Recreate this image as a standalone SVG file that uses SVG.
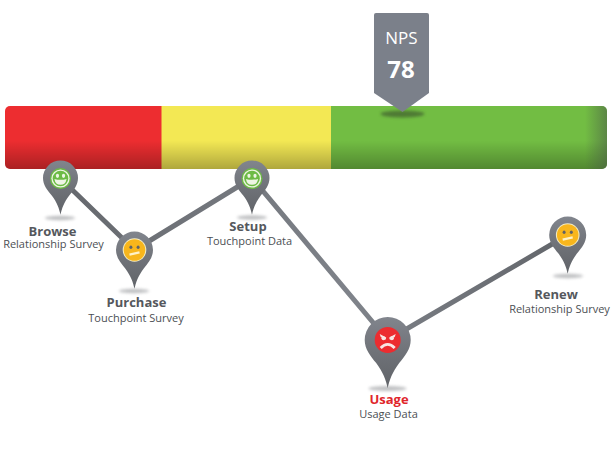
<svg xmlns="http://www.w3.org/2000/svg" width="613" height="456" viewBox="0 0 613 456">
<style>
text{font-family:"Open Sans","Noto Sans","Liberation Sans",sans-serif;text-anchor:middle}
.t{font-size:13px;font-weight:700;fill:#55585d}
.s{font-size:11px;fill:#4c4f54}
.pin{fill:url(#pinG)}
.shadow{fill:#8a8c90;opacity:.55;filter:url(#b2)}
.line{fill:none;stroke:url(#lineG);stroke-width:5;stroke-linejoin:round}
</style>
<defs>
<linearGradient id="pinG" x1="0" y1="0" x2="0" y2="1"><stop offset="0" stop-color="#81858d"/><stop offset=".5" stop-color="#6f7278"/><stop offset="1" stop-color="#606368"/></linearGradient>
<linearGradient id="lineG" gradientUnits="userSpaceOnUse" x1="60" y1="178" x2="567" y2="235"><stop offset="0" stop-color="#65686d"/><stop offset=".6" stop-color="#7f838a"/><stop offset="1" stop-color="#62656a"/></linearGradient>
<linearGradient id="botG" x1="0" y1="0" x2="0" y2="1"><stop offset="0" stop-color="#000" stop-opacity="0"/><stop offset=".55" stop-color="#000" stop-opacity="0"/><stop offset="1" stop-color="#000" stop-opacity=".28"/></linearGradient>
<linearGradient id="rightG" x1="0" y1="0" x2="1" y2="0"><stop offset="0" stop-color="#4a5a48" stop-opacity="0"/><stop offset="1" stop-color="#4a5a48" stop-opacity=".55"/></linearGradient>
<clipPath id="barClip"><rect x="5" y="106" width="602" height="63" rx="5"/></clipPath>
<filter id="b2" x="-30%" y="-100%" width="160%" height="300%"><feGaussianBlur stdDeviation="1.6"/></filter>
<path id="pinShape" class="pin" d="M0 2.1C-.07 1.75-.2 1.4-.5 1C-.75 .7-1 .4-1 0A1 1 0 1 1 1 0C1 .4 .75 .7 .5 1C.2 1.4 .07 1.75 0 2.1Z"/>
<g id="happy">
<circle r="11" fill="#6dbb45"/><circle r="9.6" fill="#eef5e4"/><circle r="8.2" fill="#6dbb45"/>
<ellipse cx="-3.2" cy="-2.8" rx="1.7" ry="2.2" fill="#eef5e4"/><ellipse cx="3.2" cy="-2.8" rx="1.7" ry="2.2" fill="#eef5e4"/>
<path d="M-6.4 .4Q0 2.2 6.400 .4Q5.400 6.600 0 6.600Q-5.400 6.600-6.400 .4Z" fill="#eef5e4"/>
</g>
<g id="neutral">
<circle r="11.800" fill="#f3ecc4"/><circle r="10.800" fill="#f8b61c"/>
<ellipse cx="-3.6" cy="-2.800" rx="1.500" ry="1.700" fill="#5f6267"/><ellipse cx="3.6" cy="-2.800" rx="1.500" ry="1.700" fill="#5f6267"/>
<path d="M-5 4.600L5 2.400" stroke="#fff2c8" stroke-width="2.200" fill="none"/>
</g>
<g id="angry">
<circle r="13" fill="#ec2c30"/>
<path d="M-8 -6L-1.500 -2.600L-2.200 -.2L-7 -3ZM8 -6L1.500 -2.600L2.200 -.2L7 -3Z" fill="#f8e6e4"/>
<ellipse cx="-4.200" cy="-1.800" rx="2" ry="2" fill="#f8e6e4"/><ellipse cx="4.200" cy="-1.800" rx="2" ry="2" fill="#f8e6e4"/>
<path d="M-7 8Q0 .6 7 8" stroke="#f8e6e4" stroke-width="2.800" fill="none"/>
</g>
</defs>

<g id="bar">
<g clip-path="url(#barClip)">
<rect x="5" y="106" width="157" height="63" fill="#ed2d30"/>
<rect x="161.500" y="106" width="170" height="63" fill="#f3e854"/>
<rect x="331" y="106" width="276" height="63" fill="#72bd43"/>
<rect x="5" y="106" width="602" height="63" fill="url(#botG)"/>
<rect x="585" y="106" width="22" height="63" fill="url(#rightG)"/>
</g>
</g>

<g id="connectors">
<polyline class="line" points="60,178 134.500,250 252,178 387.700,340 567.700,235"/>
</g>

<g id="nps">
<ellipse cx="402.500" cy="114" rx="22" ry="3.400" fill="#3f5f2d" opacity=".7" filter="url(#b2)"/>
<path d="M374 15a2 2 0 0 1 2-2h51a2 2 0 0 1 2 2V93L402.500 112L374 93Z" fill="#7b808a"/>
<text x="401.500" y="44" font-size="17" font-weight="500" fill="#fff">NPS</text>
<text x="401" y="78" font-size="24" font-weight="700" fill="#fff">78</text>
</g>

<g id="browse">
<ellipse class="shadow" cx="60" cy="218" rx="15" ry="2.200"/>
<use href="#pinShape" transform="translate(60.500 178) scale(17.500)"/>
<use href="#happy" transform="translate(60.500 178.500) scale(.95)"/>
<text class="t" x="52.500" y="236">Browse</text>
<text class="s" x="53.500" y="248">Relationship Survey</text>
</g>

<g id="purchase">
<ellipse class="shadow" cx="134" cy="291" rx="15" ry="2.200"/>
<use href="#pinShape" transform="translate(134.500 250) scale(18.500)"/>
<use href="#neutral" transform="translate(134.500 250)"/>
<text class="t" x="136.500" y="307">Purchase</text>
<text class="s" x="136" y="322">Touchpoint Survey</text>
</g>

<g id="setup">
<ellipse class="shadow" cx="252" cy="217.500" rx="15" ry="2.200"/>
<use href="#pinShape" transform="translate(252 178) scale(17.500)"/>
<use href="#happy" transform="translate(252 178.500) scale(.95)"/>
<text class="t" x="248" y="231">Setup</text>
<text class="s" x="249.500" y="245">Touchpoint Data</text>
</g>

<g id="usage">
<ellipse class="shadow" cx="387.500" cy="388.500" rx="19" ry="2.500"/>
<use href="#pinShape" transform="translate(387.700 340) scale(23)"/>
<use href="#angry" transform="translate(387.700 340)"/>
<text class="t" x="389" y="404" style="fill:#e0262b">Usage</text>
<text class="s" x="388.500" y="418">Usage Data</text>
</g>

<g id="renew">
<ellipse class="shadow" cx="568" cy="276" rx="15" ry="2.200"/>
<use href="#pinShape" transform="translate(567.700 235) scale(18.500)"/>
<use href="#neutral" transform="translate(567.700 235)"/>
<text class="t" x="556" y="299">Renew</text>
<text class="s" x="559.500" y="313">Relationship Survey</text>
</g>
</svg>
